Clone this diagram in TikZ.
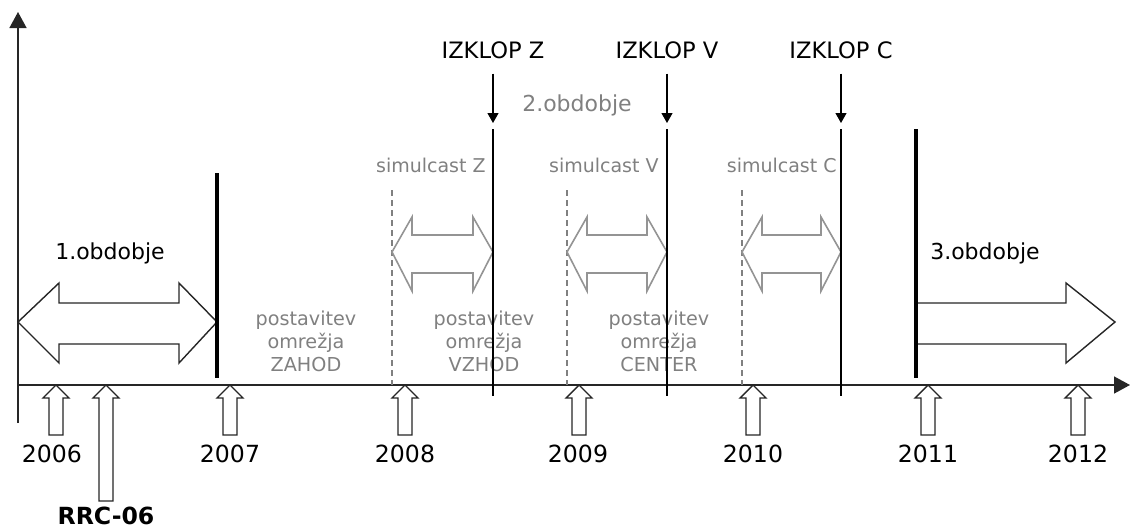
\documentclass[tikz,border=0pt]{standalone}
\usepackage{fontspec}
\setmainfont{DejaVu Sans}
\usetikzlibrary{arrows.meta}
\definecolor{softgray}{gray}{0.5}
\definecolor{arrowgray}{gray}{0.58}

% upward block arrow: tip on the time axis, #1 = x position, #2 = bottom end
\newcommand\yeararrow[2]{%
  \draw[blockarrow] (#1,385) -- (#1+13,398) -- (#1+7,398) -- (#1+7,#2)
    -- (#1-7,#2) -- (#1-7,398) -- (#1-13,398) -- cycle;}
% grey two-headed arrow of a simulcast period, #1 = left tip, #2 = right tip
\newcommand\simularrow[2]{%
  \draw[simarrow] (#1,252) -- (#1+20,217) -- (#1+20,235) -- (#2-20,235)
    -- (#2-20,217) -- (#2,252) -- (#2-20,291) -- (#2-20,273) -- (#1+20,273)
    -- (#1+20,291) -- cycle;}

\begin{document}
\begin{tikzpicture}[x=0.5pt,y=-0.5pt,
  axis/.style={line width=0.75pt,draw=black!85,-{Triangle[length=8pt,width=8.5pt]}},
  blockarrow/.style={line width=0.7pt,draw=black!85,fill=white,line join=miter},
  simarrow/.style={line width=0.8pt,draw=arrowgray,fill=white,line join=miter},
  bigarrow/.style={line width=0.7pt,draw=black!85,fill=white,line join=miter},
  thickbar/.style={line width=2.4pt,black},
  cutline/.style={line width=1pt,black},
  dashline/.style={line width=0.8pt,draw=softgray,dash pattern=on 3pt off 2pt},
  dnarrow/.style={line width=0.6pt,black,shorten <=4pt,-{Triangle[length=5pt,width=5.5pt]}},
  year/.style={font=\fontsize{11.8}{13}\selectfont},
  period/.style={font=\fontsize{11}{13}\selectfont},
  izklop/.style={font=\fontsize{11.3}{13}\selectfont},
  simlabel/.style={font=\fontsize{9.5}{11}\selectfont,text=softgray,anchor=east,inner sep=0pt},
  buildlabel/.style={font=\fontsize{9.6}{11.5}\selectfont,text=softgray,align=center}]
\useasboundingbox (0,0) rectangle (1130,530);

% axes
\draw[axis] (18,423) -- (18,12);
\draw[axis] (18,385) -- (1130,385);

% simulcast boundaries
\foreach \x in {392,567,742} \draw[dashline] (\x,190) -- (\x,385);

% period 1
\draw[bigarrow] (18,322) -- (59,283) -- (59,303) -- (179,303) -- (179,283)
  -- (217,322) -- (179,363) -- (179,344) -- (59,344) -- (59,363) -- cycle;
\draw[thickbar] (217,173) -- (217,378);
\node[period] (p1) at (110,253) {1.obdobje};

% period 2: simulcast phases
\simularrow{392}{493}
\simularrow{567}{667}
\simularrow{742}{841}
\node[simlabel] (simZ) at (486,165) {simulcast Z};
\node[simlabel] (simV) at (659,165) {simulcast V};
\node[simlabel] (simC) at (837,165) {simulcast C};
\node[period,text=softgray] (p2) at (577,105) {2.obdobje};

\node[buildlabel] (bZ) at (306,341) {postavitev\\omrežja\\ZAHOD};
\node[buildlabel] (bV) at (484,341) {postavitev\\omrežja\\VZHOD};
\node[buildlabel] (bC) at (659,341) {postavitev\\omrežja\\CENTER};

% switch-off moments
\foreach \x in {493,667,841} \draw[cutline] (\x,129) -- (\x,396);
\node[izklop] (izZ) at (493,50) {IZKLOP Z};
\node[izklop] (izV) at (667,50) {IZKLOP V};
\node[izklop] (izC) at (841,50) {IZKLOP C};
\coordinate (tZ) at (493,123);
\coordinate (tV) at (667,123);
\coordinate (tC) at (841,123);
\draw[dnarrow] (izZ.south) -- (tZ);
\draw[dnarrow] (izV.south) -- (tV);
\draw[dnarrow] (izC.south) -- (tC);

% period 3
\draw[bigarrow] (916,303) -- (1066,303) -- (1066,283) -- (1115,322)
  -- (1066,363) -- (1066,344) -- (916,344);
\draw[thickbar] (916,129) -- (916,378);
\node[period] (p3) at (985,253) {3.obdobje};

% years
\yeararrow{56}{435}
\yeararrow{106}{501}
\yeararrow{230}{435}
\yeararrow{405}{435}
\yeararrow{579}{435}
\yeararrow{753}{435}
\yeararrow{928}{435}
\yeararrow{1078}{435}
\node[year] (y2006) at (52,454) {2006};
\node[year] (y2007) at (230,454) {2007};
\node[year] (y2008) at (405,454) {2008};
\node[year] (y2009) at (578,454) {2009};
\node[year] (y2010) at (753,454) {2010};
\node[year] (y2011) at (928,454) {2011};
\node[year] (y2012) at (1078,454) {2012};
\node[year,font=\fontsize{11.8}{13}\selectfont\bfseries,inner sep=0pt] (rrc) at (106,516) {RRC-06};
\end{tikzpicture}
\end{document}
